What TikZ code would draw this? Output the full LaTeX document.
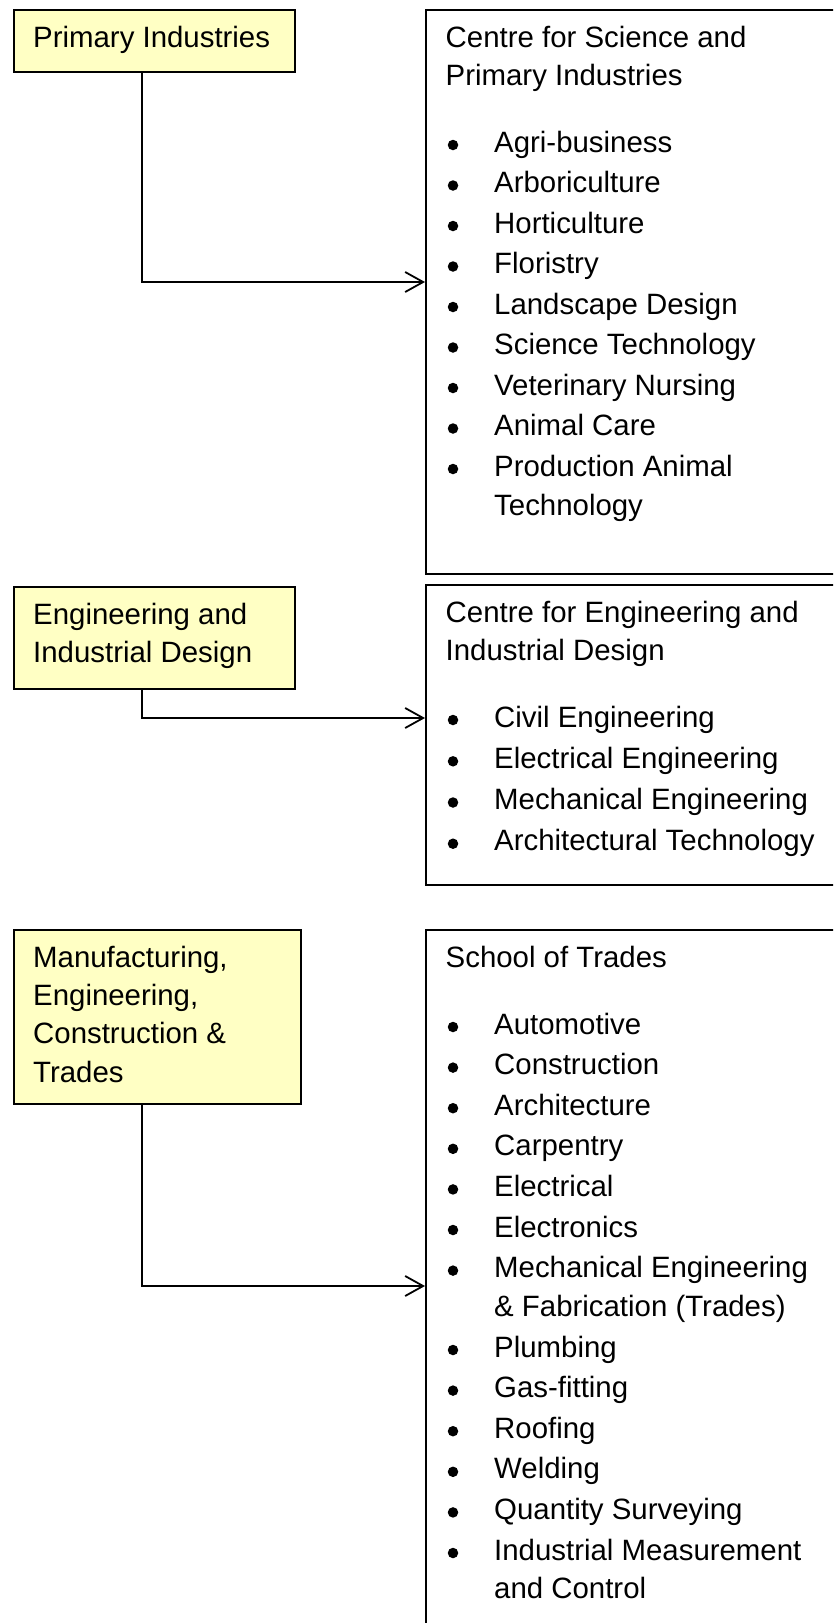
\documentclass[tikz,border=0pt]{standalone}
\usepackage{fontspec}
\setmainfont{Liberation Sans}
\usetikzlibrary{arrows.meta}
\definecolor{boxyellow}{HTML}{FFFFC4}
\begin{document}
\begin{tikzpicture}[x=1pt,y=-1pt,
  ybox/.style={draw=black, line width=2pt, fill=boxyellow, rectangle, inner sep=0pt, anchor=north west},
  wbox/.style={draw=black, line width=2pt, rectangle, inner sep=0pt, anchor=north west},
  txt/.style={anchor=base west, inner sep=0pt, font=\fontsize{29.4}{38}\selectfont},
  conn/.style={line width=1.8pt, -{Straight Barb[length=18pt,width=20pt,line width=1.8pt]}},
  bul/.style={circle, fill=black, inner sep=0pt, minimum size=10.5pt},
  ]
\useasboundingbox (0,0) rectangle (833,1623);
\clip (0,0) rectangle (833,1623);

% ---------- group 1 ----------
\node[ybox, minimum width=281pt, minimum height=62pt] (y1) at (13,9) {};
\node[txt] (y1t) at (33,47) {Primary Industries};
\node[wbox, minimum width=450pt, minimum height=564pt] (r1) at (425,9) {};
\node[txt] (r1h1) at (445.5,47) {Centre for Science and};
\node[txt] (r1h2) at (445.5,85) {Primary Industries};
\foreach \y/\t [count=\i] in {152/Agri-business, 192.5/Arboriculture, 233/Horticulture, 273.5/Floristry,
  314/Landscape Design, 354.5/Science Technology, 395/Veterinary Nursing, 435.5/Animal Care,
  476/Production Animal}{
  \node[bul] (r1d\i) at (453,\y-7) {};
  \node[txt] (r1b\i) at (494,\y) {\t};
}
\node[txt] (r1b10) at (494,515) {Technology};
\coordinate (c1) at (142,282);
\draw[conn] (y1.south -| c1) -- (c1) -- (c1 -| r1.west);

% ---------- group 2 ----------
\node[ybox, minimum width=281pt, minimum height=102pt] (y2) at (13,586) {};
\node[txt] (y2t1) at (33,624) {Engineering and};
\node[txt] (y2t2) at (33,662) {Industrial Design};
\node[wbox, minimum width=450pt, minimum height=300pt] (r2) at (425,584) {};
\node[txt] (r2h1) at (445.5,622) {Centre for Engineering and};
\node[txt] (r2h2) at (445.5,660) {Industrial Design};
\foreach \y/\t [count=\i] in {727/Civil Engineering, 768.3/Electrical Engineering,
  809.5/Mechanical Engineering, 850.7/Architectural Technology}{
  \node[bul] (r2d\i) at (453,\y-7) {};
  \node[txt] (r2b\i) at (494,\y) {\t};
}
\coordinate (c2) at (142,718);
\draw[conn] (y2.south -| c2) -- (c2) -- (c2 -| r2.west);

% ---------- group 3 ----------
\node[ybox, minimum width=287pt, minimum height=174pt] (y3) at (13,929) {};
\node[txt] (y3t1) at (33,967) {Manufacturing,};
\node[txt] (y3t2) at (33,1005.3) {Engineering,};
\node[txt] (y3t3) at (33,1043.6) {Construction \&};
\node[txt] (y3t4) at (33,1082) {Trades};
\node[wbox, minimum width=450pt, minimum height=740pt] (r3) at (425,929) {};
\node[txt] (r3h1) at (445.5,967) {School of Trades};
\foreach \y/\t [count=\i] in {1034/Automotive, 1074.6/Construction, 1115.2/Architecture,
  1155.8/Carpentry, 1196.4/Electrical, 1237/Electronics, 1277.6/Mechanical Engineering,
  1357/Plumbing, 1397.6/Gas-fitting, 1438.2/Roofing, 1478.8/Welding,
  1519.4/Quantity Surveying, 1560/Industrial Measurement}{
  \node[bul] (r3d\i) at (453,\y-7) {};
  \node[txt] (r3b\i) at (494,\y) {\t};
}
\node[txt] (r3w1) at (494,1316.4) {\& Fabrication (Trades)};
\node[txt] (r3w2) at (494,1598.8) {and Control};
\coordinate (c3) at (142,1286);
\draw[conn] (y3.south -| c3) -- (c3) -- (c3 -| r3.west);
\end{tikzpicture}
\end{document}
